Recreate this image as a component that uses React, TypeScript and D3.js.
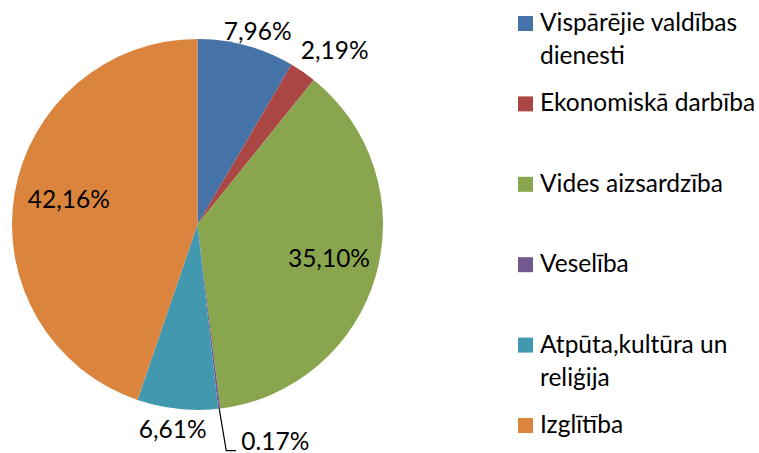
import React, { useEffect, useRef } from "react";
import * as d3 from "d3";

const categories = [
  "Vispārējie valdības dienesti",
  "Ekonomiskā darbība",
  "Vides aizsardzība",
  "Veselība",
  "Atpūta,kultūra un reliģija",
  "Izglītība",
];
const values = [7.96, 2.19, 35.1, 0.17, 6.61, 42.16];
const valueLabels = ["7,96%", "2,19%", "35,10%", "0.17%", "6,61%", "42,16%"];
const colors = ["#4572A7", "#AA4643", "#89A54E", "#71588F", "#4198AF", "#DB843D"];

const W = 759;
const H = 453;
const FONT = "Lato, 'Open Sans', sans-serif";
const FS = 24.5;

export default function App() {
  const ref = useRef<SVGSVGElement>(null);

  useEffect(() => {
    document.body.style.margin = "0";
    const svg = d3.select(ref.current);
    svg.selectAll("*").remove();

    const cx = 197.5;
    const cy = 224.5;
    const R = 185.5;

    const pie = d3.pie<number>().sort(null).value((d) => d);
    const arcs = pie(values);
    const arc = d3.arc<d3.PieArcDatum<number>>().innerRadius(0).outerRadius(R);

    const g = svg.append("g").attr("transform", `translate(${cx},${cy})`);
    g.selectAll("path")
      .data(arcs)
      .enter()
      .append("path")
      .attr("d", arc as any)
      .attr("fill", (_d, i) => colors[i]);

    const mid = (a: d3.PieArcDatum<number>) => (a.startAngle + a.endAngle) / 2;
    const labelG = g.append("g").attr("font-family", FONT).attr("font-size", FS).attr("fill", "#000");

    arcs.forEach((a, i) => {
      const frac = (a.endAngle - a.startAngle) / (2 * Math.PI);
      const m = mid(a);
      const s = Math.sin(m);
      const c = -Math.cos(m);
      if (frac > 0.2) {
        const r = R * 0.72;
        labelG
          .append("text")
          .attr("x", r * s + 3)
          .attr("y", r * c - 4)
          .attr("text-anchor", "middle")
          .attr("dominant-baseline", "central")
          .text(valueLabels[i]);
      } else if (frac > 0.01) {
        const pad = 10;
        const t = labelG
          .append("text")
          .attr("text-anchor", "middle")
          .attr("dominant-baseline", "central")
          .text(valueLabels[i]);
        const bb = (t.node() as SVGTextElement).getBBox();
        const extra = frac < 0.03 ? 12 : 0;
        const px = (R + pad + extra) * s + (s * bb.width) / 2;
        const py = (R + pad + extra) * c + (c * 16) / 2 + 2;
        t.attr("x", px).attr("y", py);
      } else {
        // tiny slice: leader line
        const ex = R * s;
        const ey = R * c;
        const bx = ex + 7;
        const by = ey + 42;
        g.append("path")
          .attr("d", `M${ex},${ey}L${bx},${by}L${bx + 10},${by}`)
          .attr("fill", "none")
          .attr("stroke", "#000")
          .attr("stroke-width", 1.2);
        labelG
          .append("text")
          .attr("x", bx + 15)
          .attr("y", by - 1)
          .attr("text-anchor", "start")
          .text(valueLabels[i]);
      }
    });

    // Legend
    const legend = svg.append("g").attr("font-family", FONT).attr("font-size", FS);
    const maxW = 222;
    const measure = svg.append("text").attr("font-family", FONT).attr("font-size", FS);
    const wrap = (txt: string) => {
      const words = txt.split(" ");
      const lines: string[] = [];
      let cur = "";
      words.forEach((w) => {
        const trial = cur ? cur + " " + w : w;
        measure.text(trial);
        const wd = (measure.node() as SVGTextElement).getComputedTextLength();
        if (wd > maxW && cur) {
          lines.push(cur);
          cur = w;
        } else cur = trial;
      });
      if (cur) lines.push(cur);
      return lines;
    };

    const slot = d3.scalePoint<number>().domain(d3.range(categories.length)).range([23.5, 425.5]);
    const lineH = 33;
    categories.forEach((name, i) => {
      const lines = wrap(name);
      const center = slot(i)!;
      const firstBase = center + 7.5;
      const item = legend.append("g");
      item
        .append("rect")
        .attr("x", 518)
        .attr("y", center - 7.5)
        .attr("width", 15)
        .attr("height", 15)
        .attr("fill", colors[i]);
      lines.forEach((ln, k) => {
        item
          .append("text")
          .attr("x", 540)
          .attr("y", firstBase + k * lineH)
          .attr("fill", "#000")
          .text(ln);
      });
    });
    measure.remove();
  }, []);

  return (
    <svg
      ref={ref}
      width={W}
      height={H}
      style={{ position: "absolute", left: 0, top: 0, background: "#fff" }}
    />
  );
}
